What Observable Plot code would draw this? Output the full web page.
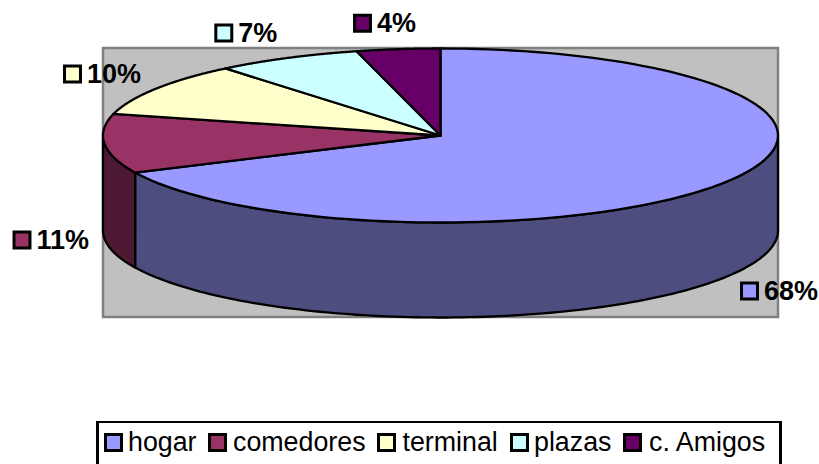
<!doctype html>
<html><head><meta charset="utf-8">
<script src="https://cdn.jsdelivr.net/npm/d3@7"></script>
<script src="https://cdn.jsdelivr.net/npm/@observablehq/plot@0.6"></script>
<style>
html,body{margin:0;padding:0;background:#fff;overflow:hidden;width:819px;height:464px}
#chart svg{display:block}
#legend{position:absolute;left:96px;top:421px;width:686px;height:60px;box-sizing:border-box;border:solid #000;border-width:2px 3px;font:26.8px "Liberation Sans",Arial,sans-serif;color:#000}
#legend .item{position:absolute;left:0;top:0;height:34px;line-height:34px;white-space:nowrap}
#legend .sw{position:absolute;top:10px;width:19px;height:19px;box-sizing:border-box;border:3px solid #000}
#legend .tx{position:absolute;top:2px}
</style></head><body>
<div id="chart"></div><div id="legend"></div>
<script>
// Data
const categories = ["hogar", "comedores", "terminal", "plazas", "c. Amigos"];
const values = [68, 11, 10, 7, 4];
const colors = ["#9999FF", "#993366", "#FFFFCC", "#CCFFFF", "#660066"];
const sideColors = ["#4D4D80", "#4D1933", "#808066", "#668080", "#330033"];

// Layout (pixels relative to the pie centre, which is where the scales put 0)
const rx = 337.5, ry = 87, depth = 95;
const swatchX = [309, -418.5, -368, -216.7, -78];
const swatchY = [155.5, 104.5, -61.5, -102.5, -112.2];
const legendSwatchX = [5, 109, 278, 411, 524];
const legendTextX = [29, 134, 303.5, 435, 550];

const total = d3.sum(values);
let acc = 0;
const slices = values.map((v, i) => {
  const a0 = acc / total * 2 * Math.PI; acc += v;
  return {name: categories[i], i, v, a0, a1: acc / total * 2 * Math.PI};
});
const rim = (a, dy = 0) => ({x: rx * Math.sin(a), y: -ry * Math.cos(a) + dy});
const arc = (a0, a1) => d3.range(0, 1.0001, 1 / 120).map(t => a0 + (a1 - a0) * t);

const tops = slices.flatMap(s => {
  const pts = [{x: 0, y: 0}, ...arc(s.a0, s.a1).map(a => rim(a)), {x: 0, y: 0}];
  return pts.map(p => ({...p, name: s.name}));
});
// visible outer wall: the part of each slice on the front half of the ellipse
const sides = slices.flatMap(s => {
  const a0 = Math.max(s.a0, Math.PI / 2), a1 = Math.min(s.a1, 1.5 * Math.PI);
  if (a1 <= a0) return [];
  const as = arc(a0, a1);
  const pts = [...as.map(a => rim(a)), ...as.slice().reverse().map(a => rim(a, depth)), rim(a0)];
  return pts.map(p => ({...p, name: s.name, fill: sideColors[s.i]}));
});
const labels = slices.map(s => ({name: s.name, text: s.v + "%", x: swatchX[s.i], y: swatchY[s.i]}));

const chart = Plot.plot({
  width: 819, height: 421,
  margin: 0,
  x: {domain: [-440, 379], range: [0, 819], axis: null},
  y: {domain: [-135, 286], range: [0, 421], axis: null},
  color: {domain: categories, range: colors},
  marks: [
    Plot.rect([{x1: -337, x2: 338, y1: -87, y2: 182}], {x1: "x1", x2: "x2", y1: "y1", y2: "y2", fill: "#C0C0C0", stroke: "#808080", strokeWidth: 2.5}),
    Plot.line(sides, {x: "x", y: "y", z: "name", fill: "fill", stroke: "#000", strokeWidth: 2.3, curve: "linear"}),
    Plot.line(tops, {x: "x", y: "y", z: "name", fill: "name", stroke: "#000", strokeWidth: 2.3, curve: "linear", strokeLinejoin: "round"}),
    Plot.dot(labels, {x: "x", y: "y", fill: "name", stroke: "#000", strokeWidth: 3, symbol: "square", r: 9}),
    Plot.text(labels, {x: "x", y: "y", text: "text", dx: 14.5, dy: 0, textAnchor: "start", fill: "#000", fontSize: 27, fontWeight: "bold", fontFamily: "Liberation Sans, Arial, sans-serif"})
  ]
});
document.getElementById("chart").appendChild(chart);

const legend = document.getElementById("legend");
categories.forEach((c, i) => {
  const item = document.createElement("div");
  item.className = "item";
  item.innerHTML = `<span class="sw" style="left:${legendSwatchX[i]}px;background:${colors[i]}"></span><span class="tx" style="left:${legendTextX[i]}px"></span>`;
  item.querySelector(".tx").textContent = c;
  legend.appendChild(item);
});
</script>
</body></html>
